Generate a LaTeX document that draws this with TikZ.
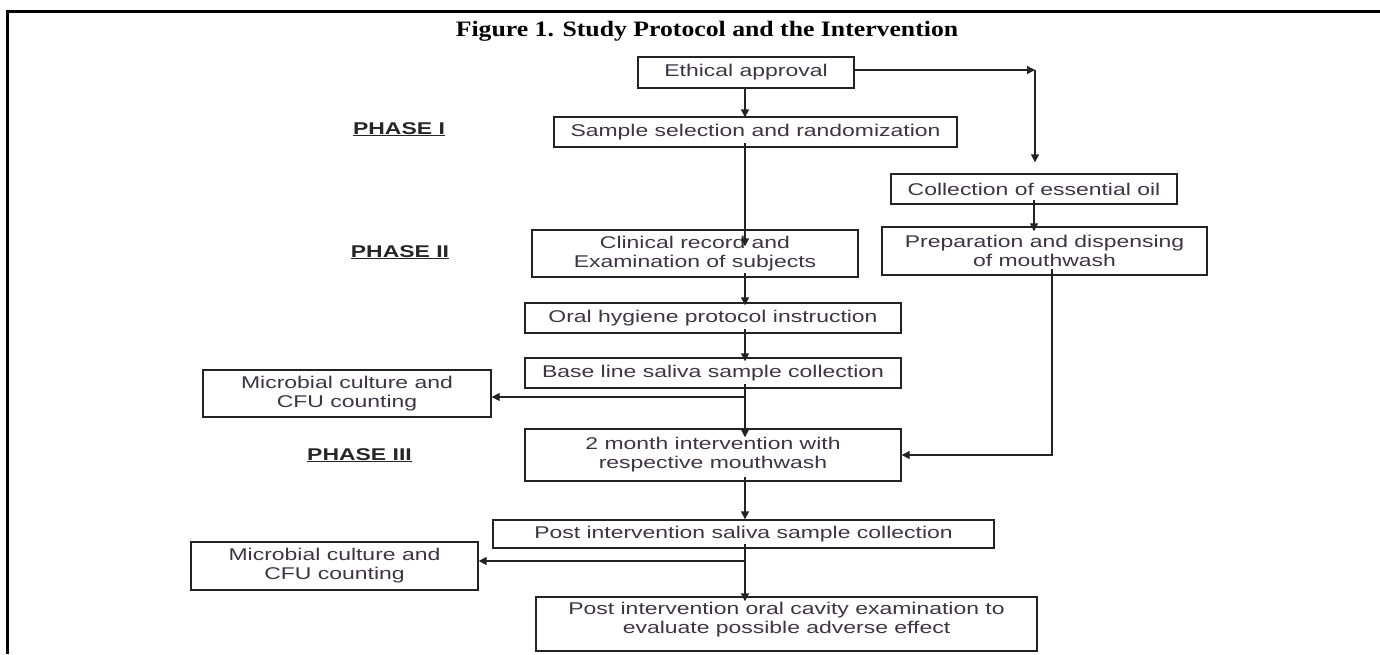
\documentclass[tikz,border=0pt]{standalone}
\usepackage{fontspec}
\usepackage{tikz}
\usetikzlibrary{arrows,arrows.meta,positioning}
\newfontfamily\boxfont[FakeStretch=1.35]{Liberation Sans}
\newfontfamily\titlefont[FakeStretch=1.17]{Liberation Serif}
\definecolor{inkgrey}{RGB}{62,52,68}
\definecolor{linegrey}{RGB}{35,35,35}

\begin{document}
\begin{tikzpicture}[x=1pt,y=-1pt]
                    \tikzstyle{every node}+=[inner sep=0pt]
                    \tikzstyle{box}=[draw=linegrey, line width=1.4pt, text=inkgrey, align=center, font=\boxfont\fontsize{17}{19}\selectfont]
                    \tikzstyle{phase}=[text=black!85, anchor=base, font=\boxfont\bfseries\fontsize{17}{19}\selectfont]
                    \tikzstyle{link}=[draw=linegrey, line width=1.4pt, -{Triangle[length=8pt,width=8pt]}, shorten <=-5pt]
                    \useasboundingbox (0,0) rectangle (1380,654);
                    \fill [white] (0,0) rectangle (1380,654);
                    \draw [black, line width=3pt] (7,654) -- (7,11.5) -- (1380,11.5);
                    \node [anchor=base] (title) at (707,36) {\titlefont\bfseries\fontsize{22}{24}\selectfont Figure 1. Study Protocol and the Intervention};
                    \node [phase] (phaseone) at (399,134) {\underline{PHASE I}};
                    \node [phase] (phasetwo) at (400,257) {\underline{PHASE II}};
                    \node [phase] (phasethree) at (359.5,460) {\underline{PHASE III}};
                    \node [box, minimum width=216, minimum height=31] (ethic) at (746,72.5) {Ethical approval};
                    \node [box, minimum width=403, minimum height=30] (sample) at (755.5,132) {Sample selection and randomization};
                    \node [box, minimum width=326, minimum height=47] (clinic) at (695,253.5) {Clinical record and\\Examination of subjects};
                    \node [box, minimum width=376, minimum height=30] (hygiene) at (713,318) {Oral hygiene protocol instruction};
                    \node [box, minimum width=376, minimum height=30] (baseline) at (713,373) {Base line saliva sample collection};
                    \node [box, minimum width=288, minimum height=47] (cfuA) at (347,393.5) {Microbial culture and\\CFU counting};
                    \node [box, minimum width=376, minimum height=52] (month) at (713,455) {2 month intervention with\\respective mouthwash};
                    \node [box, minimum width=501, minimum height=28] (postsal) at (743.5,534) {Post intervention saliva sample collection};
                    \node [box, minimum width=287, minimum height=48] (cfuB) at (334.5,566) {Microbial culture and\\CFU counting};
                    \node [box, minimum width=501, minimum height=54] (postexam) at (786.5,624) {};
                    \node [box, draw=none, anchor=north, yshift=-5.5pt] (postexamtext) at (postexam.north) {Post intervention oral cavity examination to\\evaluate possible adverse effect};
                    \node [box, minimum width=286, minimum height=30] (collect) at (1034,189) {Collection of essential oil};
                    \node [box, minimum width=325, minimum height=48] (prep) at (1044.5,251) {Preparation and dispensing\\of mouthwash};
                    \coordinate (spine) at (745,0);
                    \coordinate (corner) at (1035,70);
                    \coordinate (drop) at (1052,0);
                    \coordinate (forkA) at (745,397);
                    \coordinate (forkB) at (745,561);
                    \draw [link, shorten <=0pt, shorten >=-1pt] (ethic.south -| spine) -- (sample.north -| spine);
                    \draw [link, shorten >=-17pt] (sample.south -| spine) -- (clinic.north -| spine);
                    \draw [link, shorten >=-3pt] (clinic.south -| spine) -- (hygiene.north -| spine);
                    \draw [link, shorten >=-4pt] (hygiene.south -| spine) -- (baseline.north -| spine);
                    \draw [link, shorten >=-9pt] (baseline.south -| spine) -- (month.north -| spine);
                    \draw [link, shorten <=0pt] (forkA) -- (forkA -| cfuA.east);
                    \draw [link] (month.south -| spine) -- (postsal.north -| spine);
                    \draw [link, shorten >=-5pt] (postsal.south -| spine) -- (postexam.north -| spine);
                    \draw [link, shorten <=0pt] (forkB) -- (forkB -| cfuB.east);
                    \draw [link, shorten <=0pt] (ethic.east |- corner) -- (corner);
                    \draw [link, shorten <=0pt, shorten >=11pt] (corner) -- (corner |- collect.north);
                    \draw [link, shorten >=-5pt] (collect.south) -- (collect.south |- prep.north);
                    \draw [link, shorten <=-7pt] (prep.south -| drop) |- (month.east);
                \end{tikzpicture}
\end{document}
